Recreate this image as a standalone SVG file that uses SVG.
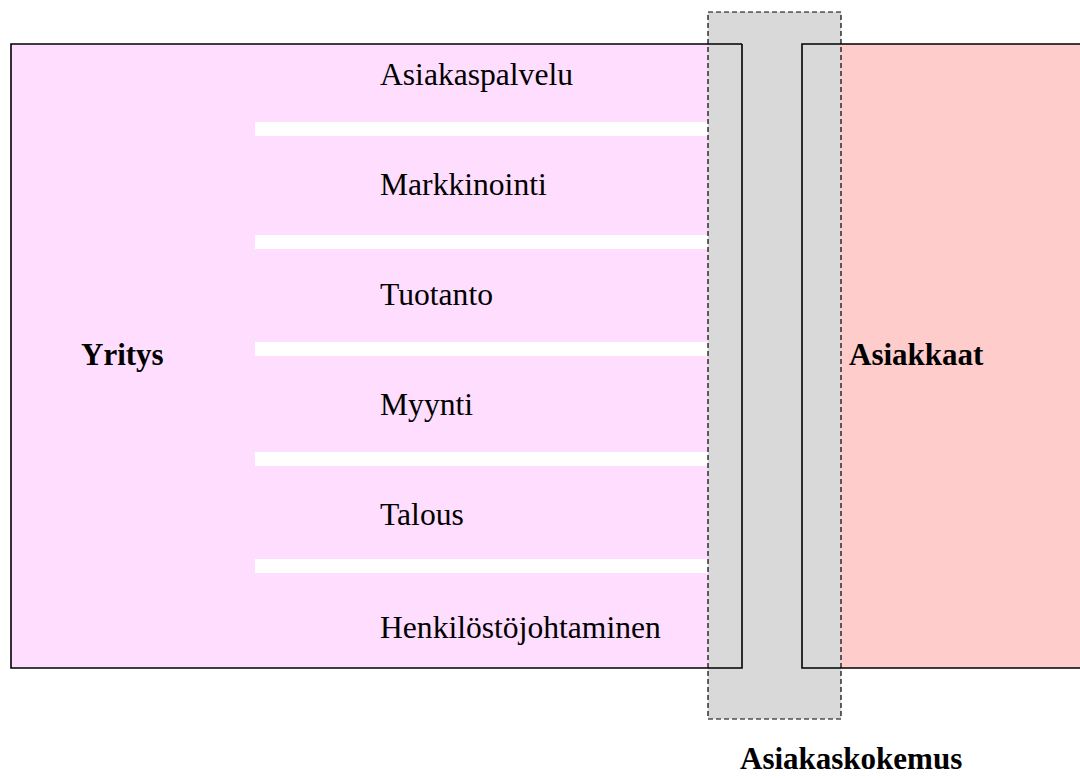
<svg xmlns="http://www.w3.org/2000/svg" width="1080" height="778" viewBox="0 0 1080 778">
<style>
.t{font-family:"Liberation Serif","Times New Roman",serif;font-size:31.6px;fill:#000}
.b{font-family:"Liberation Serif","Times New Roman",serif;font-size:31px;font-weight:bold;fill:#000}
.o{fill:none;stroke:#000;stroke-width:1.6}
.bar{fill:#fff}
</style>
<rect width="1080" height="778" fill="#fff"/>
<g id="yritys">
<rect x="11" y="44" width="731" height="624" fill="#FFDDFF"/>
</g>
<g id="asiakkaat">
<rect x="802" y="44" width="278" height="624" fill="#FFCCCC"/>
</g>
<g id="bars">
<rect class="bar" x="255" y="122" width="453" height="14"/>
<rect class="bar" x="255" y="235" width="453" height="14"/>
<rect class="bar" x="255" y="342" width="453" height="14"/>
<rect class="bar" x="255" y="452" width="453" height="14"/>
<rect class="bar" x="255" y="559" width="453" height="14"/>
</g>
<g id="asiakaskokemus">
<rect x="708" y="12" width="133" height="707" fill="#D9D9D9"/>
</g>
<g id="outlines">
<path class="o" d="M742,44 H11 V668 H742 V44"/>
<path class="o" d="M1080,44 H802 V668 H1080"/>
</g>
<g id="dashed">
<rect x="708" y="12" width="133" height="707" fill="none" stroke="#000" stroke-width="1.2" stroke-dasharray="5,3"/>
</g>
<g id="labels">
<text class="t" x="380" y="85">Asiakaspalvelu</text>
<text class="t" x="380" y="195">Markkinointi</text>
<text class="t" x="380" y="305">Tuotanto</text>
<text class="t" x="380" y="415">Myynti</text>
<text class="t" x="380" y="525">Talous</text>
<text class="t" x="380" y="638">Henkilöstöjohtaminen</text>
<text class="b" x="81" y="365">Yritys</text>
<text class="b" x="849" y="365">Asiakkaat</text>
<text class="b" x="740" y="769">Asiakaskokemus</text>
</g>
</svg>
